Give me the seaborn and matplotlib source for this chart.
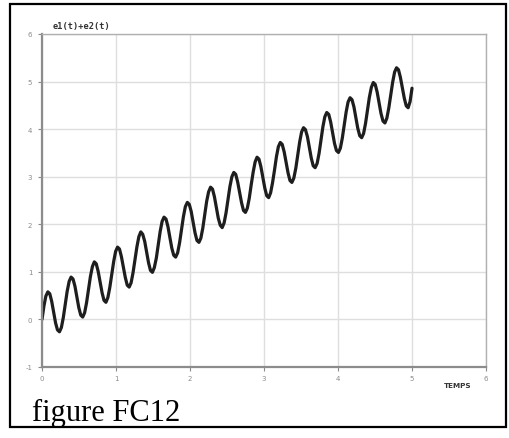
import matplotlib
matplotlib.use("Agg")
import matplotlib.pyplot as plt
import seaborn as sns
import pandas as pd
from matplotlib.patches import Rectangle

# values
temps = [
    0.000, 0.026, 0.052, 0.079, 0.105, 0.131, 0.157, 0.183, 0.209, 0.236, 0.262, 0.288,
    0.314, 0.340, 0.367, 0.393, 0.419, 0.445, 0.471, 0.497, 0.524, 0.550, 0.576, 0.602,
    0.628, 0.654, 0.681, 0.707, 0.733, 0.759, 0.785, 0.812, 0.838, 0.864, 0.890, 0.916,
    0.942, 0.969, 0.995, 1.021, 1.047, 1.073, 1.100, 1.126, 1.152, 1.178, 1.204, 1.230,
    1.257, 1.283, 1.309, 1.335, 1.361, 1.388, 1.414, 1.440, 1.466, 1.492, 1.518, 1.545,
    1.571, 1.597, 1.623, 1.649, 1.676, 1.702, 1.728, 1.754, 1.780, 1.806, 1.833, 1.859,
    1.885, 1.911, 1.937, 1.964, 1.990, 2.016, 2.042, 2.068, 2.094, 2.121, 2.147, 2.173,
    2.199, 2.225, 2.251, 2.278, 2.304, 2.330, 2.356, 2.382, 2.409, 2.435, 2.461, 2.487,
    2.513, 2.539, 2.566, 2.592, 2.618, 2.644, 2.670, 2.697, 2.723, 2.749, 2.775, 2.801,
    2.827, 2.854, 2.880, 2.906, 2.932, 2.958, 2.985, 3.011, 3.037, 3.063, 3.089, 3.115,
    3.142, 3.168, 3.194, 3.220, 3.246, 3.273, 3.299, 3.325, 3.351, 3.377, 3.403, 3.430,
    3.456, 3.482, 3.508, 3.534, 3.560, 3.587, 3.613, 3.639, 3.665, 3.691, 3.718, 3.744,
    3.770, 3.796, 3.822, 3.848, 3.875, 3.901, 3.927, 3.953, 3.979, 4.006, 4.032, 4.058,
    4.084, 4.110, 4.136, 4.163, 4.189, 4.215, 4.241, 4.267, 4.294, 4.320, 4.346, 4.372,
    4.398, 4.424, 4.451, 4.477, 4.503, 4.529, 4.555, 4.581, 4.608, 4.634, 4.660, 4.686,
    4.712, 4.739, 4.765, 4.791, 4.817, 4.843, 4.869, 4.896, 4.922, 4.948, 4.974, 5.000,
]
e1_plus_e2 = [
    0.00, 0.28, 0.49, 0.58, 0.54, 0.38, 0.16, -0.07, -0.22, -0.26, -0.17, 0.04,
    0.31, 0.59, 0.80, 0.89, 0.85, 0.70, 0.47, 0.25, 0.09, 0.05, 0.14, 0.35,
    0.63, 0.90, 1.11, 1.21, 1.17, 1.01, 0.79, 0.56, 0.40, 0.36, 0.46, 0.67,
    0.94, 1.22, 1.43, 1.52, 1.48, 1.32, 1.10, 0.88, 0.72, 0.68, 0.77, 0.98,
    1.26, 1.53, 1.74, 1.84, 1.79, 1.64, 1.41, 1.19, 1.03, 0.99, 1.09, 1.29,
    1.57, 1.85, 2.06, 2.15, 2.11, 1.95, 1.73, 1.50, 1.35, 1.31, 1.40, 1.61,
    1.88, 2.16, 2.37, 2.46, 2.42, 2.27, 2.04, 1.82, 1.66, 1.62, 1.71, 1.92,
    2.20, 2.48, 2.68, 2.78, 2.74, 2.58, 2.36, 2.13, 1.98, 1.93, 2.03, 2.24,
    2.51, 2.79, 3.00, 3.09, 3.05, 2.89, 2.67, 2.45, 2.29, 2.25, 2.34, 2.55,
    2.83, 3.10, 3.31, 3.41, 3.37, 3.21, 2.98, 2.76, 2.60, 2.56, 2.66, 2.87,
    3.14, 3.42, 3.63, 3.72, 3.68, 3.52, 3.30, 3.08, 2.92, 2.88, 2.97, 3.18,
    3.46, 3.73, 3.94, 4.03, 3.99, 3.84, 3.61, 3.39, 3.23, 3.19, 3.28, 3.49,
    3.77, 4.05, 4.26, 4.35, 4.31, 4.15, 3.93, 3.70, 3.55, 3.51, 3.60, 3.81,
    4.08, 4.36, 4.57, 4.66, 4.62, 4.47, 4.24, 4.02, 3.86, 3.82, 3.91, 4.12,
    4.40, 4.67, 4.88, 4.98, 4.94, 4.78, 4.56, 4.33, 4.17, 4.13, 4.23, 4.44,
    4.71, 4.99, 5.20, 5.29, 5.25, 5.09, 4.87, 4.65, 4.49, 4.45, 4.58, 4.86,
]
x_ticks = [0, 1, 2, 3, 4, 5, 6]
y_ticks = [-1, 0, 1, 2, 3, 4, 5, 6]

sns.set_theme(style="white")
plt.rcParams['font.family'] = ['DejaVu Sans']

W, H = 510, 439
fig = plt.figure(figsize=(W / 100, H / 100), dpi=100)
fig.patch.set_facecolor("white")
ax = fig.add_axes([42 / W, 1 - 368 / H, (486 - 42) / W, (368 - 35) / H])

df = pd.DataFrame({"t": temps, "v": e1_plus_e2})
sns.lineplot(data=df, x="t", y="v", ax=ax, color="#1e1e1e", linewidth=2.3,
             sort=False, estimator=None)

ax.set_xlim(0, 6)
ax.set_ylim(-1, 6)
ax.set_xticks(x_ticks)
ax.set_yticks(y_ticks)
ax.set_xticklabels([str(v) for v in x_ticks])
ax.set_yticklabels([str(v) for v in y_ticks])
ax.set_xlabel("")
ax.set_ylabel("")
ax.grid(True, color="#dedede", linewidth=1.0)
ax.set_axisbelow(True)
ax.tick_params(axis="both", which="major", labelsize=5, colors="#8a8a8a",
               length=3, width=0.8)
ax.tick_params(axis="y", left=True, pad=4)
ax.tick_params(axis="x", bottom=True, pad=3)
for side in ["left", "bottom"]:
    ax.spines[side].set_color("#8c8c8c")
    ax.spines[side].set_linewidth(1.6)
for side in ["top", "right"]:
    ax.spines[side].set_color("#b0b0b0")
    ax.spines[side].set_linewidth(1.0)

fig.text(53 / W, 1 - 27 / H, "e1(t)+e2(t)", family="DejaVu Sans Mono",
         fontweight="bold", fontsize=6.2, color="#333333", ha="left", va="center")
fig.text(458 / W, 1 - 386 / H, "TEMPS", fontweight="bold", fontsize=5.2,
         color="#333333", ha="center", va="center")
fig.text(32 / W, 1 - 421 / H, "figure FC12", family="Liberation Serif",
         fontsize=22, color="black", ha="left", va="baseline")

fig.patches.append(Rectangle((10 / W, 1 - 428 / H), 496 / W, 423 / H,
                             transform=fig.transFigure, fill=False,
                             edgecolor="black", linewidth=1.6))

fig.savefig("out.png", dpi=100, facecolor="white")
